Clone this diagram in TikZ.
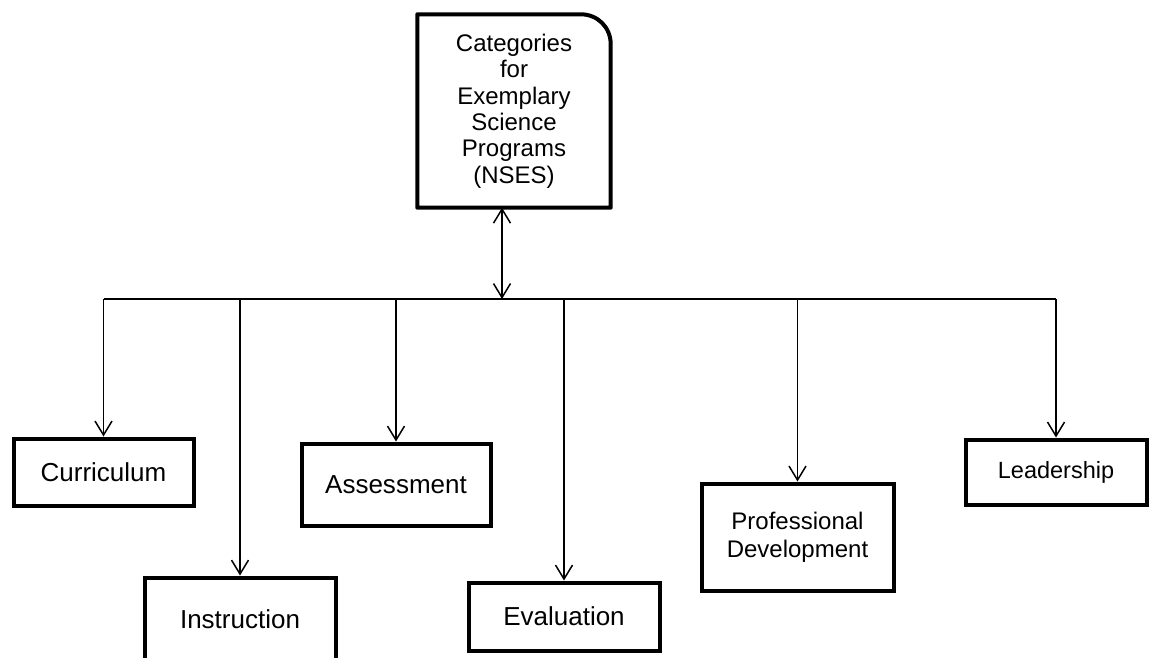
\documentclass[tikz,border=0pt]{standalone}
\usepackage{fontspec}
\setmainfont{Liberation Sans}
\usetikzlibrary{arrows.meta}

\begin{document}
\begin{tikzpicture}[x=1pt,y=-1pt,
  box/.style={draw, line width=4pt, rectangle, align=center, inner sep=0pt},
  big/.style={font=\fontsize{26}{29}\selectfont},
  mid/.style={font=\fontsize{24}{28}\selectfont},
  small/.style={font=\fontsize{23.5}{27}\selectfont},
  link/.style={line width=1.5pt},
  arr/.style={link, -{Straight Barb[length=14pt,width=17pt,line width=1.5pt]}},
  arrboth/.style={link, {Straight Barb[length=14pt,width=17pt,line width=1.5pt]}-{Straight Barb[length=14pt,width=17pt,line width=1.5pt]}}]

\useasboundingbox (0,0) rectangle (1151,658);
\clip (0,0) rectangle (1151,658);

% root category box (only its upper right corner is rounded)
\node (top) [minimum width=193pt, minimum height=193pt, inner sep=0pt,
  font=\fontsize{24}{26.4}\selectfont, align=center] at (514,111)
  {Categories\\for\\Exemplary\\Science\\Programs\\(NSES)};
\draw[line width=4pt, line join=round]
  (top.south west) -- (top.north west) -- ([xshift=-30pt]top.north east)
  .. controls ([xshift=-13pt]top.north east) and ([yshift=-13pt]top.north east)
  .. ([yshift=-30pt]top.north east) -- (top.south east) -- cycle;

% the six categories
\node (cur) [box, big, minimum width=180pt, minimum height=67pt] at (103.5,472) {Curriculum};
\node (ins) [box, big, minimum width=191pt, minimum height=84pt] at (240,619.5) {Instruction};
\node (ass) [box, big, minimum width=189pt, minimum height=82pt] at (396,484.5) {Assessment};
\node (eva) [box, big, minimum width=191pt, minimum height=68pt] at (564,616.5) {Evaluation};
\node (pd)  [box, mid, minimum width=192pt, minimum height=107pt] at (797.5,537) {Professional\\Development};
\node (lea) [box, small, minimum width=181pt, minimum height=65pt] at (1056,472) {Leadership};

% distribution bus
\coordinate (bus) at (0,299);
\coordinate (hub) at (502,299);
\draw[link] (cur.north |- bus) -- (lea.north |- bus);
\draw[arrboth] (hub |- top.south) -- (hub);

% drops to each category
\foreach \n in {cur,ins,ass,eva,pd,lea}
  \draw[arr] (\n.north |- bus) -- (\n.north);
\end{tikzpicture}
\end{document}
